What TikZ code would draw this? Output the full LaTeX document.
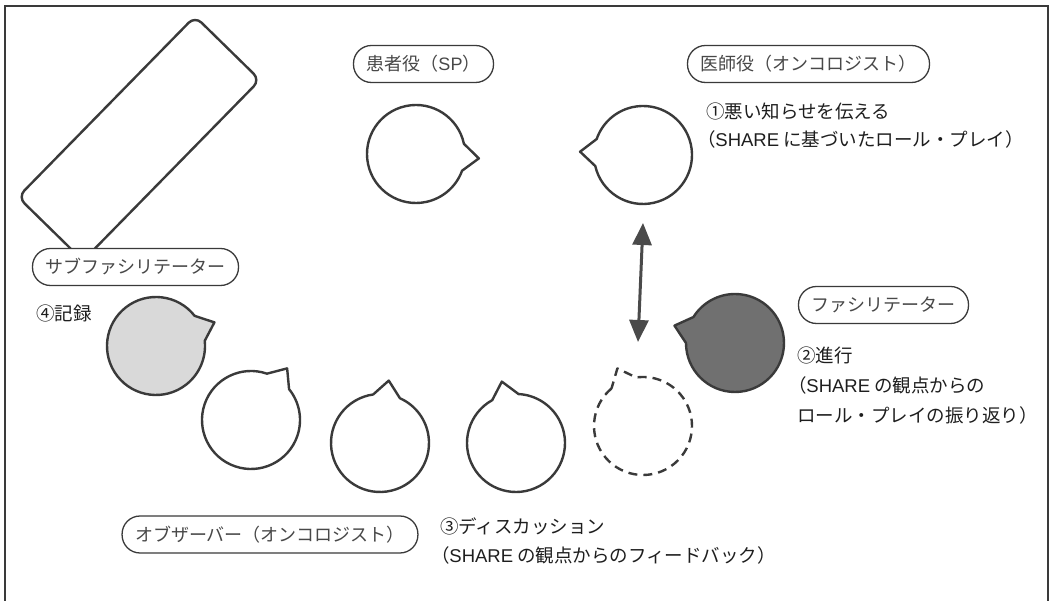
\documentclass[tikz,border=0pt]{standalone}
\usepackage{fontspec}
\usetikzlibrary{arrows.meta,calc}
\newfontfamily\jp{Noto Sans CJK JP}
\newfontfamily\jpp[RawFeature=+palt]{Noto Sans CJK JP}
\newfontfamily\latn{Liberation Sans}
\definecolor{linec}{HTML}{3A3A3A}
\definecolor{lightfill}{HTML}{D9D9D9}
\definecolor{darkfill}{HTML}{707070}
\definecolor{arrowc}{HTML}{4A4A4A}
\definecolor{labeltext}{HTML}{484848}
\definecolor{annottext}{HTML}{1E1E1E}
\newcommand{\lat}[1]{{\latn #1}}
\newcommand{\opar}{{\jpp （}}
\tikzset{
  rolelabel/.style={draw=linec, line width=1.3pt, fill=white, rounded corners=18pt,
    minimum height=37pt, inner xsep=13pt, inner ysep=0pt, text=labeltext,
    font=\jp\fontsize{18}{20}\selectfont},
  annot/.style={inner sep=0pt, align=left, text=annottext},
  bubbleline/.style={draw=linec, line width=2.4pt, line join=round},
  tablebox/.style={draw=linec, line width=2.4pt, rounded corners=9pt, fill=white,
    minimum width=253pt, minimum height=91pt, inner sep=0pt},
  framec/.style={draw=linec, line width=1.2pt},
  twoarrow/.style={draw=arrowc, line width=3pt, {Triangle[length=22pt,width=19pt]}-{Triangle[length=22pt,width=19pt]}}
}
% bubble: center x, center y, tail angle, style
\newcommand{\speechbubble}[4]{%
  \path[#4] ($(#1,#2)+(#3+16:49)$) arc[start angle=#3+16, delta angle=328, radius=49]
    -- ($(#1,#2)+(#3:63)$) -- cycle;}
\begin{document}
\begin{tikzpicture}[x=1pt,y=1pt]
\useasboundingbox (0,0) rectangle (1049,601);
% frame (open at the bottom)
\draw[framec] (5,0) -- (5,595) -- (1048,595) -- (1048,0);

% table
\node[tablebox, rotate=45.6] (table) at (139,462.5) {};

% role labels
\node[rolelabel] (sp) at (423.5,537) {患者役（\lat{SP}）};
\node[rolelabel] (doc) at (808.5,537) {医師役（オンコロジスト）};
\node[rolelabel] (sub) at (135.5,334) {サブファシリテーター};
\node[rolelabel] (fac) at (883.5,296) {ファシリテーター};
\node[rolelabel] (obs) at (270,66.5) {オブザーバー（オンコロジスト）};

% speech bubbles
\speechbubble{416}{447}{-4}{bubbleline, fill=white}
\speechbubble{643}{446}{177}{bubbleline, fill=white}
\speechbubble{156}{255}{22}{bubbleline, fill=lightfill}
\speechbubble{251}{181}{55}{bubbleline, fill=white}
\speechbubble{380}{158}{82}{bubbleline, fill=white}
\speechbubble{516}{158}{103}{bubbleline, fill=white}
\speechbubble{643}{175}{114}{bubbleline, fill=white, dash pattern=on 9pt off 6pt}
\speechbubble{735}{258}{164}{bubbleline, fill=darkfill}

% arrow between doctor and dashed seat
\coordinate (atop) at (643,378);
\coordinate (abot) at (638,259);
\draw[twoarrow] (abot) -- (atop);

% annotations
\node[annot, anchor=west, font=\jp\fontsize{18.5}{27.5}\selectfont] (t1) at (706,475.5)
  {①悪い知らせを伝える\\\opar\lat{SHARE} に基づいたロール・プレイ）};
\node[annot, anchor=west, font=\jp\fontsize{18.5}{30}\selectfont] (t2) at (797,215.5)
  {②進行\\\opar\lat{SHARE} の観点からの\\ロール・プレイの振り返り）};
\node[annot, anchor=west, font=\jp\fontsize{18.5}{29}\selectfont] (t3) at (440,59.5)
  {③ディスカッション\\\opar\lat{SHARE} の観点からのフィードバック）};
\node[annot, anchor=west, font=\jp\fontsize{18.5}{22}\selectfont] (t4) at (36,288)
  {④記録};
\end{tikzpicture}
\end{document}
